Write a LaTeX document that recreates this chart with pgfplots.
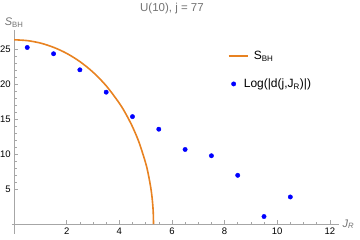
\documentclass[border=0pt]{standalone}
\usepackage{fontspec}
\setmainfont{Liberation Sans}
\usepackage{pgfplots}
\pgfplotsset{compat=1.18}
\definecolor{mmaorange}{rgb}{0.91,0.51,0.13}
\pgfplotsset{
  lineleg/.style={legend image code/.code={\draw[##1,overlay] (-5pt,0pt) -- (14pt,0pt); \path[draw=none,fill=none] (-2pt,-2pt) rectangle (2pt,2pt);}},
  dotleg/.style={legend image code/.code={\path[draw=none,fill=none] (-2pt,-2pt) rectangle (2pt,2pt); \draw[##1] plot coordinates {(0pt,0pt)};}},
}
\begin{document}
\begin{tikzpicture}
\begin{axis}[name=a, scale only axis, width=327pt, height=204pt,
  xmin=-0.08, xmax=12.35, ymin=-1.4, ymax=27.8,
  axis lines=middle, axis line style={-, black!35, line width=0.7pt},
  xtick={2,4,...,12}, ytick={5,10,...,25},
  minor x tick num=3, minor y tick num=4,
  tick align=inside, major tick length=4pt, minor tick length=2.5pt,
  tick style={black!35, line width=0.5pt},
  ticklabel style={font=\fontsize{9.5}{11}\selectfont, text=black},
  /pgf/number format/assume math mode=true,
  xlabel={\textit{J}\textsubscript{\textit{R}}},
  ylabel={\textit{S}\textsubscript{BH}},
  xlabel style={at={(axis cs:12.35,0)}, anchor=west, text=black!55, font=\fontsize{11}{13}\selectfont},
  ylabel style={at={(axis cs:0,27.8)}, anchor=south, text=black!55, font=\fontsize{11}{13}\selectfont, yshift=-1pt},
  title={U(10), j = 77},
  title style={at={(axis cs:6,27.8)}, anchor=south, yshift=10pt, text=black!55, font=\fontsize{11.5}{13}\selectfont, inner sep=0pt},
  legend style={at={(axis cs:8.14,25.4)}, anchor=north west, draw=none, fill=none,
    font=\fontsize{12}{14}\selectfont, row sep=14pt, column sep=6pt},
  legend cell align=left,
]
\addplot[mmaorange, line width=1.6pt, smooth, mark=none, lineleg]
  coordinates {(0,26.40) (0.5,26.28) (1,25.93) (1.5,25.32) (2,24.45) (2.5,23.28) (3,21.76) (3.5,19.82) (4,17.32) (4.25,15.77) (4.5,13.95) (4.75,11.71) (5,8.76) (5.1,7.18) (5.2,5.11) (5.25,3.62) (5.28,2.29) (5.29,1.62) (5.3,0)};
\addlegendentry{\hspace*{10pt}S\textsubscript{BH}}
\addplot[only marks, mark=*, mark size=2.2pt, color=blue, dotleg]
  coordinates {(0.5,25.3) (1.5,24.4) (2.5,22.1) (3.5,18.9) (4.5,15.4) (5.5,13.6) (6.5,10.7) (7.5,9.8) (8.5,7.0) (9.5,1.1) (10.5,3.9)};
\addlegendentry{Log(|d(j,J\textsubscript{R})|)}
\end{axis}
\pgfresetboundingbox
\path ([shift={(-12pt,-6pt)}]a.south west) rectangle ([shift={(21pt,30pt)}]a.north east);
\end{tikzpicture}
\end{document}
